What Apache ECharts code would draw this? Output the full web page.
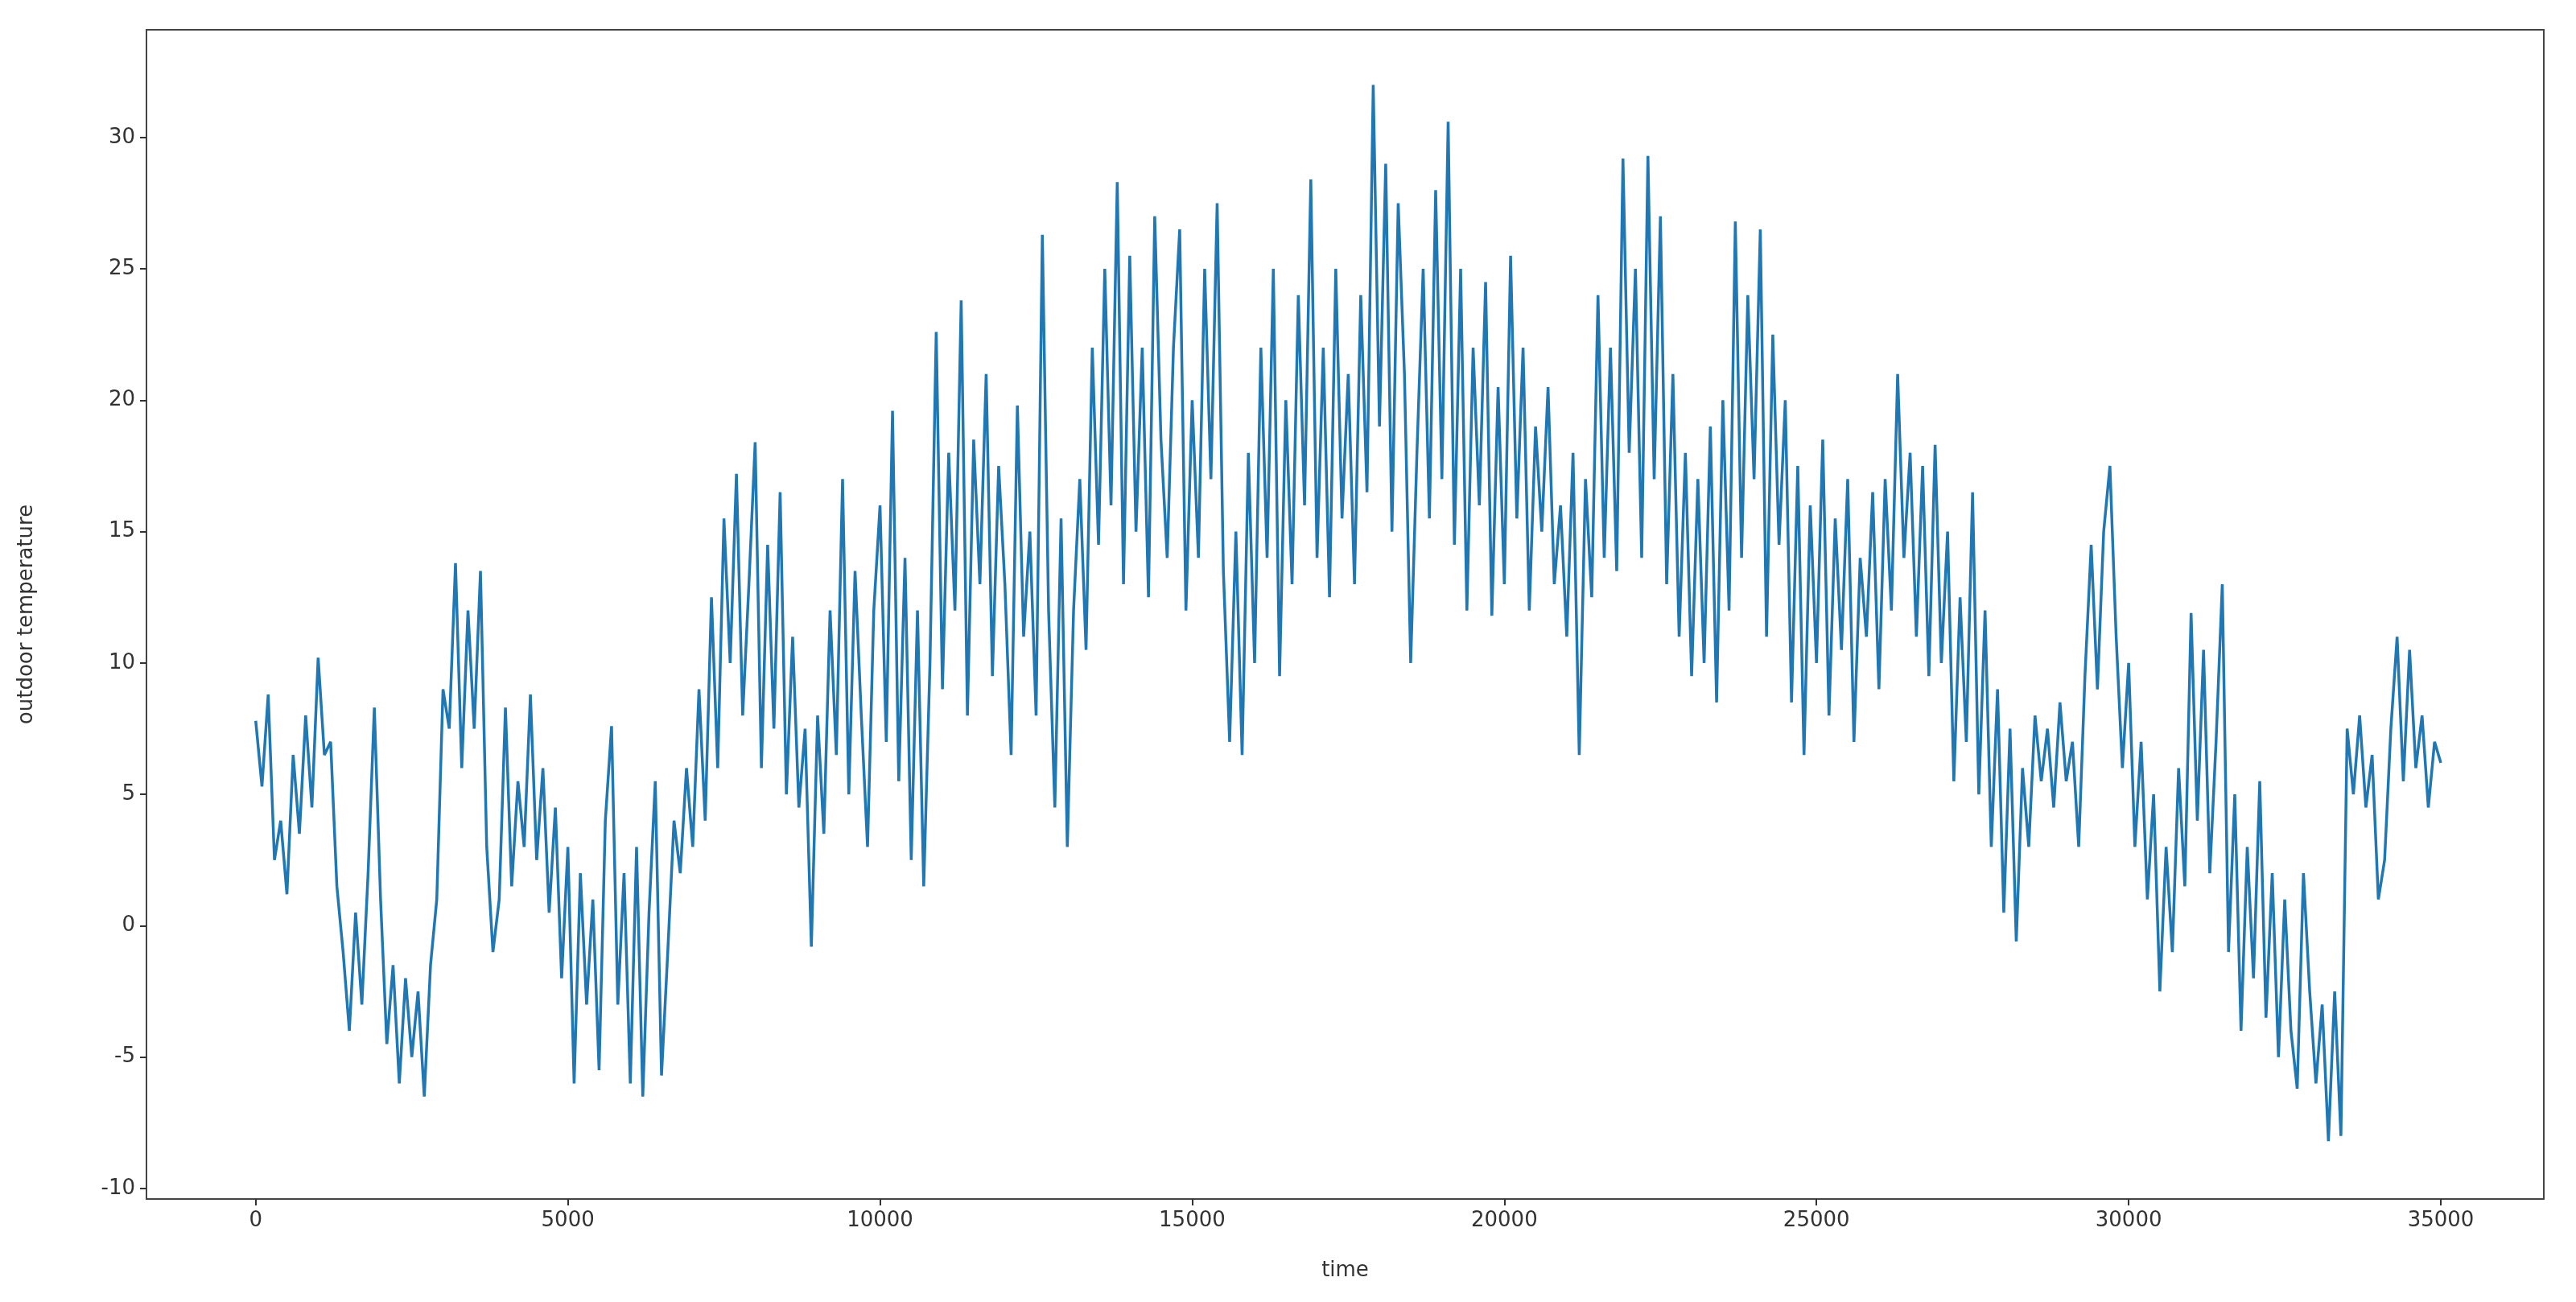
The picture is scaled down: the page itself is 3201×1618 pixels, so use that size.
<!DOCTYPE html>
<html>
<head>
<meta charset="utf-8">
<script src="https://cdn.jsdelivr.net/npm/echarts@6/dist/echarts.min.js"></script>
<style>
html, body { margin: 0; padding: 0; background: #fff; }
#main { width: 3201px; height: 1618px; }
</style>
</head>
<body>
<div id="main"></div>
<script>
var timeStep = 100;
var temperature = [
    7.8, 5.3, 8.8, 2.5, 4.0, 1.2, 6.5, 3.5, 8.0, 4.5,
    10.2, 6.5, 7.0, 1.5, -1.0, -4.0, 0.5, -3.0, 2.0, 8.3,
    1.0, -4.5, -1.5, -6.0, -2.0, -5.0, -2.5, -6.5, -1.5, 1.0,
    9.0, 7.5, 13.8, 6.0, 12.0, 7.5, 13.5, 3.0, -1.0, 1.0,
    8.3, 1.5, 5.5, 3.0, 8.8, 2.5, 6.0, 0.5, 4.5, -2.0,
    3.0, -6.0, 2.0, -3.0, 1.0, -5.5, 4.0, 7.6, -3.0, 2.0,
    -6.0, 3.0, -6.5, 0.5, 5.5, -5.7, -1.0, 4.0, 2.0, 6.0,
    3.0, 9.0, 4.0, 12.5, 6.0, 15.5, 10.0, 17.2, 8.0, 13.0,
    18.4, 6.0, 14.5, 7.5, 16.5, 5.0, 11.0, 4.5, 7.5, -0.8,
    8.0, 3.5, 12.0, 6.5, 17.0, 5.0, 13.5, 8.0, 3.0, 12.0,
    16.0, 7.0, 19.6, 5.5, 14.0, 2.5, 12.0, 1.5, 10.0, 22.6,
    9.0, 18.0, 12.0, 23.8, 8.0, 18.5, 13.0, 21.0, 9.5, 17.5,
    13.0, 6.5, 19.8, 11.0, 15.0, 8.0, 26.3, 12.0, 4.5, 15.5,
    3.0, 12.0, 17.0, 10.5, 22.0, 14.5, 25.0, 16.0, 28.3, 13.0,
    25.5, 15.0, 22.0, 12.5, 27.0, 18.5, 14.0, 22.0, 26.5, 12.0,
    20.0, 14.0, 25.0, 17.0, 27.5, 13.5, 7.0, 15.0, 6.5, 18.0,
    10.0, 22.0, 14.0, 25.0, 9.5, 20.0, 13.0, 24.0, 16.0, 28.4,
    14.0, 22.0, 12.5, 25.0, 15.5, 21.0, 13.0, 24.0, 16.5, 32.0,
    19.0, 29.0, 15.0, 27.5, 21.0, 10.0, 18.0, 25.0, 15.5, 28.0,
    17.0, 30.6, 14.5, 25.0, 12.0, 22.0, 16.0, 24.5, 11.8, 20.5,
    13.0, 25.5, 15.5, 22.0, 12.0, 19.0, 15.0, 20.5, 13.0, 16.0,
    11.0, 18.0, 6.5, 17.0, 12.5, 24.0, 14.0, 22.0, 13.5, 29.2,
    18.0, 25.0, 14.0, 29.3, 17.0, 27.0, 13.0, 21.0, 11.0, 18.0,
    9.5, 17.0, 10.0, 19.0, 8.5, 20.0, 12.0, 26.8, 14.0, 24.0,
    17.0, 26.5, 11.0, 22.5, 14.5, 20.0, 8.5, 17.5, 6.5, 16.0,
    10.0, 18.5, 8.0, 15.5, 10.5, 17.0, 7.0, 14.0, 11.0, 16.5,
    9.0, 17.0, 12.0, 21.0, 14.0, 18.0, 11.0, 17.5, 9.5, 18.3,
    10.0, 15.0, 5.5, 12.5, 7.0, 16.5, 5.0, 12.0, 3.0, 9.0,
    0.5, 7.5, -0.6, 6.0, 3.0, 8.0, 5.5, 7.5, 4.5, 8.5,
    5.5, 7.0, 3.0, 9.5, 14.5, 9.0, 15.0, 17.5, 11.0, 6.0,
    10.0, 3.0, 7.0, 1.0, 5.0, -2.5, 3.0, -1.0, 6.0, 1.5,
    11.9, 4.0, 10.5, 2.0, 7.0, 13.0, -1.0, 5.0, -4.0, 3.0,
    -2.0, 5.5, -3.5, 2.0, -5.0, 1.0, -4.0, -6.2, 2.0, -2.5,
    -6.0, -3.0, -8.2, -2.5, -8.0, 7.5, 5.0, 8.0, 4.5, 6.5,
    1.0, 2.5, 7.5, 11.0, 5.5, 10.5, 6.0, 8.0, 4.5, 7.0,
    6.2
];
var xTicks = [0, 5000, 10000, 15000, 20000, 25000, 30000, 35000];
var yTicks = [-10, -5, 0, 5, 10, 15, 20, 25, 30];

var points = temperature.map(function (v, i) { return [i * timeStep, v]; });

var axisText = { color: '#333', fontSize: 26, fontFamily: 'DejaVu Sans' };

var chart = echarts.init(document.getElementById('main'));
chart.setOption({
    animation: false,
    backgroundColor: '#fff',
    grid: {
        left: 182, right: 40, top: 37, bottom: 128,
        show: true, borderColor: '#444', borderWidth: 2
    },
    xAxis: {
        type: 'value',
        min: -1750, max: 36650,
        name: 'time', nameLocation: 'middle', nameGap: 76,
        nameTextStyle: axisText,
        axisLine: { show: true, onZero: false, lineStyle: { color: '#444', width: 2 } },
        axisTick: { show: true, customValues: xTicks, length: 8, lineStyle: { color: '#333', width: 2 } },
        axisLabel: Object.assign({ customValues: xTicks, margin: 14, formatter: function (v) { return String(v); } }, axisText),
        splitLine: { show: false }
    },
    yAxis: {
        type: 'value',
        min: -10.4, max: 34.1,
        name: 'outdoor temperature', nameLocation: 'middle', nameGap: 136,
        nameTextStyle: axisText,
        axisLine: { show: true, onZero: false, lineStyle: { color: '#444', width: 2 } },
        axisTick: { show: true, customValues: yTicks, length: 8, lineStyle: { color: '#333', width: 2 } },
        axisLabel: Object.assign({ customValues: yTicks, margin: 14, formatter: function (v) { return String(v); } }, axisText),
        splitLine: { show: false }
    },
    series: [{
        type: 'line',
        data: points,
        showSymbol: false,
        lineStyle: { color: '#1f77b4', width: 3.5 }
    }]
});
</script>
</body>
</html>
